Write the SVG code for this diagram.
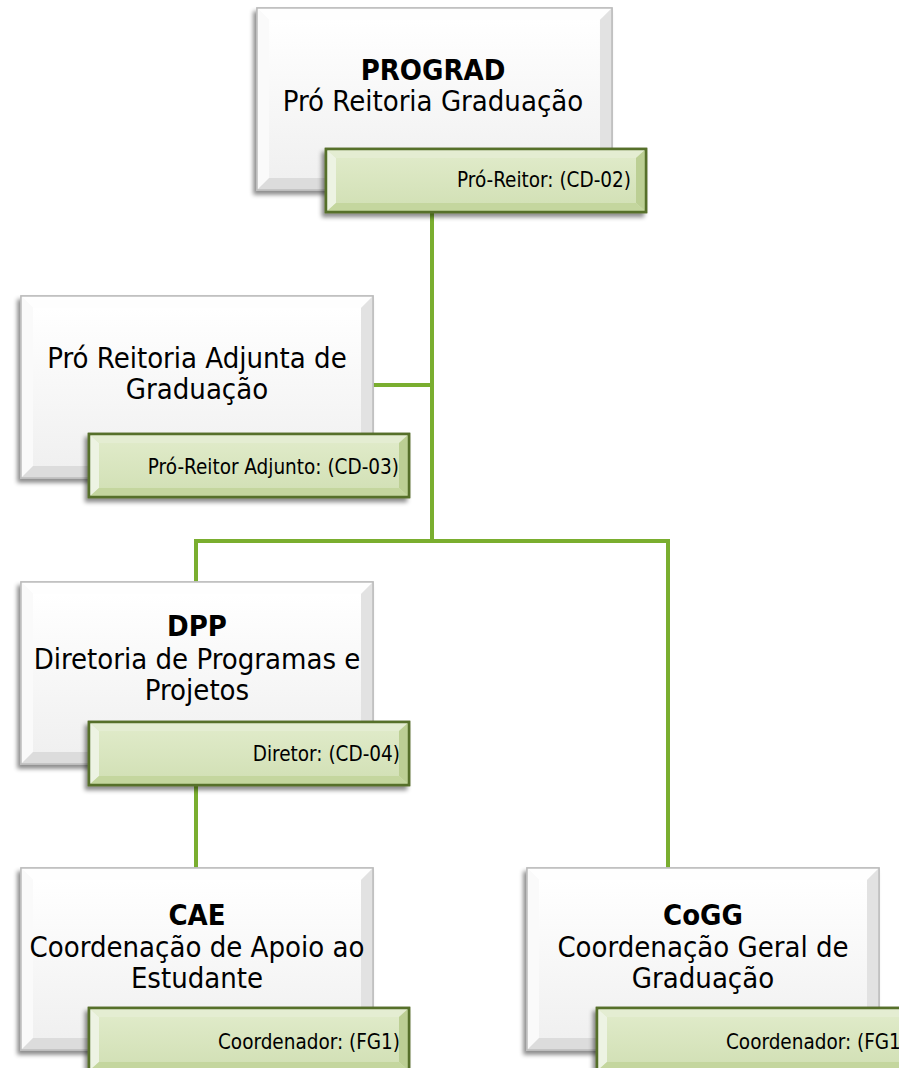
<svg xmlns="http://www.w3.org/2000/svg" xmlns:xlink="http://www.w3.org/1999/xlink" width="899" height="1068" viewBox="0 0 899 1068">
<style>
.t{font-family:"DejaVu Sans Condensed","DejaVu Sans",sans-serif;fill:#000;text-anchor:middle;font-size:29px}
.b{font-weight:bold}
.s{font-family:"DejaVu Sans Condensed","DejaVu Sans",sans-serif;fill:#000;text-anchor:end;font-size:20.5px}
.c{stroke:#7aae2f;stroke-width:4;fill:none}
</style>
<defs>
<linearGradient id="wg" x1="0" y1="0" x2="0" y2="1"><stop offset="0" stop-color="#ffffff"/><stop offset="1" stop-color="#f0f0f0"/></linearGradient>
<linearGradient id="gg" x1="0" y1="0" x2="0" y2="1"><stop offset="0" stop-color="#dfeac8"/><stop offset="1" stop-color="#d3e1b7"/></linearGradient>
<filter id="sh" x="-10%" y="-10%" width="120%" height="130%"><feDropShadow dx="-3" dy="4" stdDeviation="2" flood-color="#000" flood-opacity="0.45"/></filter>
<g id="wbox">
<rect x="0" y="0" width="352" height="182" fill="#f6f6f6" stroke="#c0c0c0" stroke-width="1.5" filter="url(#sh)"/>
<polygon points="0,0 352,0 340,12 12,12" fill="#fefefe"/>
<polygon points="0,0 12,12 12,170 0,182" fill="#fafafa"/>
<polygon points="352,0 352,182 340,170 340,12" fill="#e2e2e2"/>
<polygon points="0,182 352,182 340,170 12,170" fill="#dcdcdc"/>
<rect x="12" y="12" width="328" height="158" fill="url(#wg)"/>
<rect x="0" y="0" width="352" height="182" fill="none" stroke="#bdbdbd" stroke-width="1.5"/>
</g>
<g id="gbox">
<rect x="0" y="0" width="320" height="63" fill="#d7e4bd" stroke="#4f6228" stroke-width="2.5" filter="url(#sh)"/>
<polygon points="0,0 320,0 310,9 10,9" fill="#e4edd2"/>
<polygon points="0,0 10,9 10,54 0,63" fill="#edf3e3"/>
<polygon points="320,0 320,63 310,54 310,9" fill="#bccf94"/>
<polygon points="0,63 320,63 310,54 10,54" fill="#c4d69e"/>
<rect x="10" y="9" width="300" height="45" fill="url(#gg)"/>
<rect x="0" y="0" width="320" height="63" fill="none" stroke="#56702a" stroke-width="2.5"/>
</g>
</defs>
<g id="connectors">
<line class="c" x1="432" y1="212" x2="432" y2="541"/>
<line class="c" x1="372" y1="385" x2="432" y2="385"/>
<line class="c" x1="194" y1="541" x2="670" y2="541"/>
<line class="c" x1="196" y1="539" x2="196" y2="582"/>
<line class="c" x1="668" y1="539" x2="668" y2="868"/>
<line class="c" x1="196" y1="785" x2="196" y2="868"/>
</g>
<g id="prograd">
<use xlink:href="#wbox" x="257" y="8" transform="translate(257 8) scale(1.0085 1) translate(-257 -8)"/>
<use xlink:href="#gbox" x="326" y="149"/>
<text class="t b" x="433" y="80">PROGRAD</text>
<text class="t" x="433" y="111">Pró Reitoria Graduação</text>
<text class="s" x="631" y="187">Pró-Reitor: (CD-02)</text>
</g>
<g id="adjunta">
<use xlink:href="#wbox" x="21" y="296"/>
<use xlink:href="#gbox" x="89" y="434"/>
<text class="t" x="197" y="368">Pró Reitoria Adjunta de</text>
<text class="t" x="197" y="399">Graduação</text>
<text class="s" x="399" y="474">Pró-Reitor Adjunto: (CD-03)</text>
</g>
<g id="dpp">
<use xlink:href="#wbox" x="21" y="582"/>
<use xlink:href="#gbox" x="89" y="722"/>
<text class="t b" x="197" y="636">DPP</text>
<text class="t" x="197" y="669">Diretoria de Programas e</text>
<text class="t" x="197" y="700">Projetos</text>
<text class="s" x="400" y="761">Diretor: (CD-04)</text>
</g>
<g id="cae">
<use xlink:href="#wbox" x="21" y="868"/>
<use xlink:href="#gbox" x="89" y="1008"/>
<text class="t b" x="197" y="925">CAE</text>
<text class="t" x="197" y="957">Coordenação de Apoio ao</text>
<text class="t" x="197" y="988">Estudante</text>
<text class="s" x="400" y="1049">Coordenador: (FG1)</text>
</g>
<g id="cogg">
<use xlink:href="#wbox" x="527" y="868"/>
<use xlink:href="#gbox" x="597" y="1008"/>
<text class="t b" x="703" y="925">CoGG</text>
<text class="t" x="703" y="957">Coordenação Geral de</text>
<text class="t" x="703" y="988">Graduação</text>
<text class="s" x="908" y="1049">Coordenador: (FG1)</text>
</g>
</svg>
